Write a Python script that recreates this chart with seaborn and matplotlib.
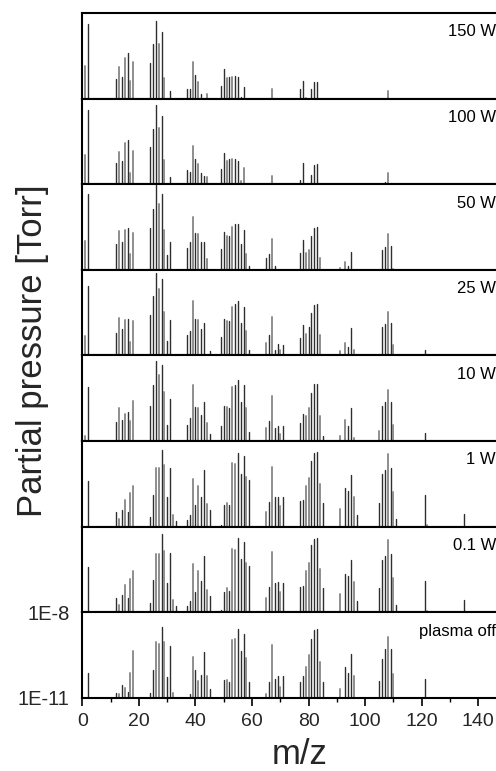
import numpy as np
import pandas as pd
import matplotlib
matplotlib.use("Agg")
import matplotlib.pyplot as plt
from matplotlib.ticker import FixedLocator, MultipleLocator, NullLocator
from matplotlib.transforms import blended_transform_factory
import seaborn as sns

# panel labels, top to bottom
labels = ["150 W", "100 W", "50 W", "25 W", "10 W", "1 W", "0.1 W", "plasma off"]

# m/z positions, log10 partial pressure [Torr], and m/z drawn in light grey
mz_150 = [1, 2, 12, 13, 14, 15, 16, 17, 18, 24, 25, 26, 27, 28, 29, 31, 37, 38, 39, 40,
          41, 42, 44, 49, 50, 51, 52, 53, 54, 55, 56, 57, 67, 77, 78, 79, 81, 82, 83, 108]
logp_150 = [-9.86, -8.38, -10.30, -9.89, -10.25, -9.56, -9.41, -10.40, -9.71, -9.76,
            -9.10, -8.27, -9.08, -8.66, -10.28, -10.74, -10.68, -10.67, -9.71, -10.19,
            -10.43, -10.85, -10.85, -10.55, -9.97, -10.28, -10.25, -10.25, -10.22, -10.25,
            -10.94, -10.61, -10.68, -10.68, -10.40, -10.97, -10.68, -10.43, -10.43, -10.73]
light_150 = [1, 13, 15, 17, 18, 27, 29, 39, 41, 44, 51, 53, 67, 79, 108]

mz_100 = [1, 2, 12, 13, 14, 15, 16, 17, 18, 24, 25, 26, 27, 28, 29, 31, 37, 38, 39, 40,
          41, 42, 43, 44, 49, 50, 51, 52, 53, 54, 55, 56, 57, 66, 67, 77, 78, 81, 82, 83,
          107, 108, 109]
logp_100 = [-9.98, -8.39, -10.24, -9.87, -10.19, -9.56, -9.44, -10.61, -9.85, -9.71,
            -9.05, -8.24, -9.02, -8.60, -10.16, -10.74, -10.51, -10.58, -9.65, -10.10,
            -10.30, -10.61, -10.70, -10.74, -10.47, -9.91, -10.18, -10.10, -10.13, -10.13,
            -10.18, -10.88, -10.43, -10.97, -10.72, -10.85, -10.24, -10.67, -10.34, -10.30,
            -10.94, -10.61, -10.96]
light_100 = [1, 13, 15, 17, 18, 27, 29, 39, 41, 44, 51, 53, 56, 57, 67, 108]

mz_50 = [1, 2, 12, 13, 14, 15, 16, 17, 18, 24, 25, 26, 27, 28, 29, 30, 31, 37, 38, 39,
         40, 41, 42, 43, 44, 49, 50, 51, 52, 53, 54, 55, 56, 57, 58, 59, 65, 66, 67, 68,
         77, 78, 79, 80, 81, 82, 83, 84, 91, 93, 94, 95, 106, 107, 108, 109, 110]
logp_50 = [-9.99, -8.33, -10.11, -9.63, -10.01, -9.61, -9.53, -10.43, -9.71, -9.53,
           -8.86, -8.03, -8.69, -8.33, -9.59, -10.49, -10.01, -10.22, -10.04, -9.14,
           -9.71, -9.74, -10.04, -10.04, -10.63, -10.28, -9.68, -9.80, -9.80, -9.50,
           -9.41, -9.38, -10.10, -9.62, -10.43, -10.88, -10.58, -10.43, -9.92, -10.86,
           -10.40, -9.94, -10.40, -10.31, -9.80, -9.53, -9.50, -10.57, -10.94, -10.73,
           -10.88, -10.37, -10.31, -10.19, -9.74, -10.16, -10.97]
light_50 = [1, 13, 15, 17, 18, 27, 29, 39, 41, 44, 51, 53, 58, 67, 79, 80, 84, 91, 93,
            108, 110]

mz_25 = [1, 2, 12, 13, 14, 15, 16, 17, 18, 24, 25, 26, 27, 28, 29, 30, 31, 37, 38, 39,
         40, 41, 42, 43, 45, 49, 50, 51, 52, 53, 54, 55, 56, 57, 58, 59, 65, 66, 67, 68,
         69, 70, 71, 77, 78, 79, 80, 81, 82, 83, 84, 91, 93, 94, 95, 96, 105, 106, 107,
         108, 109, 110, 121]
logp_25 = [-10.31, -8.57, -10.22, -9.68, -10.07, -9.77, -9.74, -10.52, -9.80, -9.59,
           -8.93, -8.12, -8.69, -8.33, -9.47, -10.51, -9.77, -10.28, -10.13, -9.11,
           -9.74, -9.77, -10.07, -9.86, -10.85, -10.37, -9.74, -9.80, -9.80, -9.29,
           -9.20, -9.11, -9.86, -9.32, -10.13, -10.80, -10.57, -10.30, -9.64, -10.80,
           -10.59, -10.80, -10.65, -10.40, -9.95, -10.25, -10.01, -9.50, -9.23, -9.20,
           -10.28, -10.85, -10.55, -10.70, -10.03, -10.82, -10.94, -10.01, -9.89, -9.47,
           -9.86, -10.64, -10.81]
light_25 = [1, 13, 15, 17, 18, 27, 29, 39, 41, 51, 53, 58, 65, 67, 70, 79, 84, 91, 93,
            96, 108, 110]

mz_10 = [1, 2, 12, 13, 14, 15, 16, 17, 18, 24, 25, 26, 27, 28, 29, 30, 31, 37, 38, 39,
         40, 41, 42, 43, 44, 45, 49, 50, 51, 52, 53, 54, 55, 56, 57, 58, 59, 65, 66, 67,
         68, 69, 70, 71, 77, 78, 79, 80, 81, 82, 83, 84, 85, 91, 93, 94, 95, 96, 105, 106,
         107, 108, 109, 110, 121]
logp_10 = [-10.83, -9.11, -10.34, -9.83, -10.25, -10.04, -9.98, -10.31, -9.59, -9.77,
           -9.04, -8.18, -8.69, -8.33, -9.29, -10.43, -9.53, -10.43, -10.19, -9.05,
           -9.80, -9.86, -10.10, -9.65, -10.37, -10.74, -10.46, -9.77, -9.80, -9.85,
           -9.11, -9.02, -8.87, -9.62, -9.05, -9.86, -10.67, -10.55, -10.31, -9.44,
           -10.55, -10.49, -10.75, -10.49, -10.37, -10.07, -10.13, -9.86, -9.32, -8.99,
           -8.99, -10.13, -10.82, -10.81, -10.28, -10.49, -9.85, -10.88, -10.64, -9.77,
           -9.65, -9.20, -9.62, -10.43, -10.72]
light_10 = [1, 13, 15, 17, 18, 27, 29, 39, 41, 44, 51, 53, 58, 65, 67, 70, 79, 80, 84,
            91, 93, 96, 105, 108, 110]

mz_1 = [2, 12, 13, 14, 15, 16, 17, 18, 24, 25, 26, 27, 28, 29, 30, 31, 32, 33, 37, 38,
        39, 40, 41, 42, 43, 44, 45, 49, 50, 51, 52, 53, 54, 55, 56, 57, 58, 59, 60, 65,
        66, 67, 68, 69, 70, 71, 77, 78, 79, 80, 81, 82, 83, 84, 85, 91, 93, 94, 95, 96,
        97, 105, 106, 107, 108, 109, 110, 111, 121, 122, 135]
logp_1 = [-9.41, -10.49, -10.73, -10.42, -10.07, -10.49, -9.83, -9.59, -10.67, -9.89,
          -8.96, -8.96, -8.30, -8.84, -9.98, -8.96, -10.58, -10.79, -10.77, -10.61,
          -9.32, -10.25, -9.59, -9.95, -9.02, -10.22, -10.43, -10.94, -10.25, -10.16,
          -10.25, -8.78, -8.81, -8.42, -9.14, -8.54, -9.26, -9.38, -10.97, -10.49,
          -10.13, -8.90, -9.98, -9.95, -10.28, -9.98, -10.10, -10.07, -9.56, -9.29,
          -8.69, -8.42, -8.39, -9.50, -10.16, -10.40, -9.65, -9.74, -9.20, -9.95,
          -10.61, -10.16, -9.14, -9.02, -8.45, -8.96, -9.77, -10.74, -9.89, -10.94,
          -10.55]
light_1 = [13, 15, 17, 18, 26, 27, 29, 32, 39, 41, 44, 51, 53, 54, 58, 65, 67, 70, 79,
           80, 84, 91, 96, 108, 110, 122]

mz_01 = [2, 12, 13, 14, 15, 16, 17, 18, 24, 25, 26, 27, 28, 29, 30, 31, 32, 33, 37, 38,
         39, 40, 41, 42, 43, 44, 45, 49, 50, 51, 52, 53, 54, 55, 56, 57, 58, 59, 65, 66,
         67, 68, 69, 70, 71, 77, 78, 79, 80, 81, 82, 83, 84, 85, 91, 93, 94, 95, 96, 97,
         105, 106, 107, 108, 109, 110, 111, 121, 122, 135]
logp_01 = [-9.40, -10.51, -10.75, -10.40, -10.06, -10.49, -9.83, -9.57, -10.68, -9.86,
           -8.95, -8.95, -8.27, -8.84, -9.98, -8.93, -10.58, -10.79, -10.79, -10.61,
           -9.32, -10.28, -9.57, -9.92, -9.02, -10.22, -10.43, -10.93, -10.28, -10.16,
           -10.25, -8.78, -8.81, -8.39, -9.14, -8.54, -9.26, -9.38, -10.49, -10.13,
           -8.90, -9.98, -9.95, -10.28, -9.98, -10.10, -10.07, -9.56, -9.26, -8.66,
           -8.42, -8.39, -9.50, -10.16, -10.37, -9.65, -9.74, -9.17, -9.95, -10.61,
           -10.16, -9.17, -9.02, -8.48, -8.96, -9.80, -10.76, -9.92, -10.95, -10.58]
light_01 = [13, 15, 17, 18, 26, 27, 29, 32, 39, 41, 44, 51, 53, 54, 58, 65, 67, 70, 79,
            80, 84, 91, 96, 108, 110, 122]

mz_off = [2, 12, 13, 14, 15, 16, 17, 18, 24, 25, 26, 27, 28, 29, 30, 31, 32, 38, 39, 40,
          41, 42, 43, 44, 45, 50, 51, 52, 53, 54, 55, 56, 57, 58, 59, 65, 66, 67, 68, 69,
          70, 71, 77, 78, 79, 80, 81, 82, 83, 84, 85, 91, 93, 94, 95, 96, 105, 106, 107,
          108, 109, 110, 121]
logp_off = [-10.13, -10.82, -10.86, -10.56, -10.67, -10.78, -10.12, -9.35, -10.82, -10.01,
            -9.05, -9.11, -8.51, -9.05, -10.28, -9.20, -10.82, -10.87, -9.56, -10.01,
            -10.40, -10.19, -9.41, -10.25, -10.68, -10.37, -10.37, -10.45, -8.96, -8.95,
            -8.60, -9.35, -8.75, -9.59, -10.46, -10.86, -10.43, -9.14, -10.34, -10.24,
            -10.62, -10.24, -10.43, -10.25, -9.92, -9.50, -8.93, -8.63, -8.60, -9.73,
            -10.46, -10.70, -9.92, -10.12, -9.47, -10.22, -10.40, -9.65, -9.29, -8.87,
            -9.29, -10.16, -10.34]
light_off = [13, 15, 17, 18, 26, 27, 29, 32, 39, 41, 44, 51, 53, 54, 58, 65, 67, 70, 79,
             80, 84, 91, 96, 108, 110]

panels = [
    (labels[0], mz_150, logp_150, light_150),
    (labels[1], mz_100, logp_100, light_100),
    (labels[2], mz_50, logp_50, light_50),
    (labels[3], mz_25, logp_25, light_25),
    (labels[4], mz_10, logp_10, light_10),
    (labels[5], mz_1, logp_1, light_1),
    (labels[6], mz_01, logp_01, light_01),
    (labels[7], mz_off, logp_off, light_off),
]

sns.set_theme(style="ticks")
plt.rcParams["font.family"] = ["Liberation Sans", "DejaVu Sans"]

W, H = 496, 771
fig = plt.figure(figsize=(W / 100, H / 100), dpi=100)

x0_px = 82.3        # m/z = 0
px_per_unit = 2.829
top_px = 13
panel_px = 85.6
floor = 1e-11       # bottom of every panel
pal = {"dark": "#2e2e2e", "light": "#8e8e8e"}
widths = {"dark": 1.0, "light": 1.4}

for i, (lab, mz, logp, light) in enumerate(panels):
    bottom = 1 - (top_px + (i + 1) * panel_px) / H
    ax = fig.add_axes([x0_px / W, bottom, 150 * px_per_unit / W, panel_px / H])
    ax.set_yscale("log")
    # each stick is a two-point line from the panel floor up to its pressure
    p = 10.0 ** np.array(logp)
    n = len(mz)
    df = pd.DataFrame({
        "mz": np.repeat(mz, 2),
        "p": np.column_stack([np.full(n, floor), p]).ravel(),
        "stick": np.repeat(np.arange(n), 2),
        "shade": np.repeat(["light" if m in light else "dark" for m in mz], 2),
    })
    sns.lineplot(data=df, x="mz", y="p", units="stick", hue="shade", palette=pal,
                 hue_order=["dark", "light"], size="shade", sizes=widths,
                 estimator=None, sort=False, legend=False, ax=ax)
    ax.set_xlim(0, 150)
    ax.set_ylim(1e-11, 1e-8)
    ax.set_xlabel("")
    ax.set_ylabel("")
    for s in ax.spines.values():
        s.set_linewidth(1.5)
        s.set_color("black")
        s.set_zorder(5)
    ax.yaxis.set_minor_locator(NullLocator())
    ax.text(496 / W, 0.78, lab,
            transform=blended_transform_factory(fig.transFigure, ax.transAxes),
            ha="right", va="center", fontsize=12, color="black", clip_on=False)
    if i < len(panels) - 1:
        ax.set_xticks([])
        ax.set_yticks([])
    else:
        ax.xaxis.set_major_locator(FixedLocator(list(range(0, 141, 20))))
        ax.set_xticklabels([str(v) for v in range(0, 141, 20)])
        ax.xaxis.set_minor_locator(MultipleLocator(10))
        ax.tick_params(axis="x", which="major", direction="out", length=6, width=1.2,
                       labelsize=14, color="black", pad=5)
        ax.tick_params(axis="x", which="minor", direction="out", length=3, width=1.0,
                       color="black")
        ax.set_yticks([1e-11, 1e-8])
        ax.set_yticklabels(["1E-11", "1E-8"])
        ax.tick_params(axis="y", which="major", length=0, labelsize=14.5, pad=9)

fig.text(33 / W, 1 - 351 / H, "Partial pressure [Torr]", rotation=90,
         ha="center", va="center", fontsize=25)
fig.text(300 / W, 1 - 755 / H, "m/z", ha="center", va="center", fontsize=25)

fig.savefig("out.png", dpi=100)
